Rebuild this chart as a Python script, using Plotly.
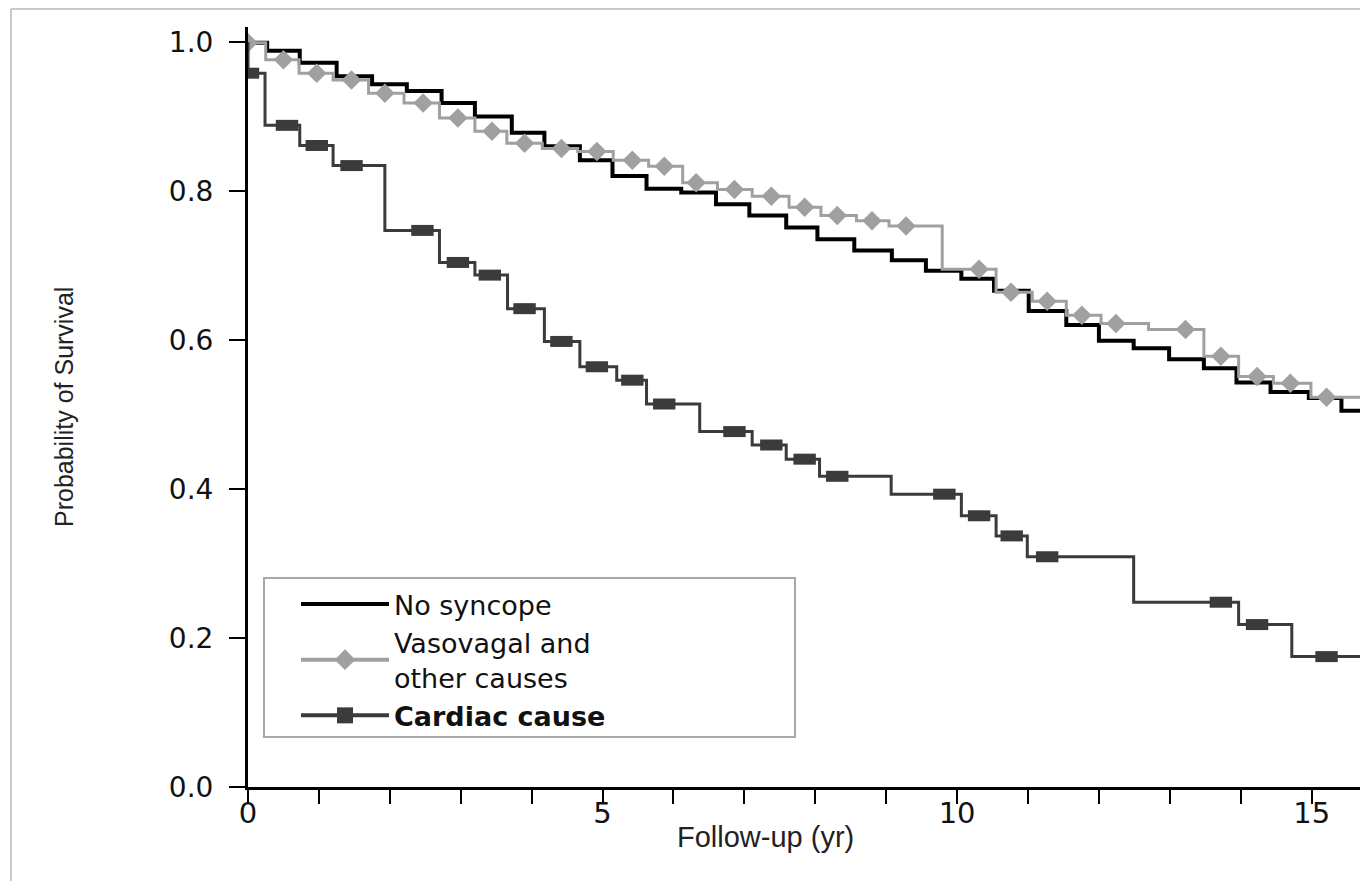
import plotly.graph_objects as go

# ---------------- data ----------------
# No syncope
ns_t = [0, 0.27, 0.73, 1.25, 1.75, 2.24, 2.73, 3.2, 3.72, 4.18, 4.68, 5.14, 5.62, 6.11, 6.6, 7.07,
        7.59, 8.03, 8.55, 9.08, 9.56, 10.06, 10.52, 11.01, 11.54, 12.0, 12.49, 12.99, 13.48, 13.94,
        14.42, 14.96, 15.42, 16.0]
ns_s = [0.999, 0.988, 0.972, 0.954, 0.943, 0.934, 0.918, 0.900, 0.878, 0.860, 0.841, 0.820, 0.803,
        0.798, 0.782, 0.767, 0.751, 0.735, 0.720, 0.707, 0.693, 0.682, 0.666, 0.639, 0.620, 0.599,
        0.589, 0.574, 0.562, 0.543, 0.530, 0.522, 0.505, 0.505]

# Vasovagal and other causes
vv_t = [0, 0.25, 0.72, 1.2, 1.7, 2.2, 2.7, 3.2, 3.65, 4.15, 4.65, 5.15, 5.65, 6.13, 6.62, 7.11,
        7.63, 8.08, 8.58, 9.04, 9.79, 10.55, 11.06, 11.54, 12.03, 12.7, 13.48, 13.97, 14.46, 14.99, 16.0]
vv_s = [0.999, 0.976, 0.958, 0.949, 0.931, 0.918, 0.898, 0.880, 0.864, 0.857, 0.853, 0.841, 0.833,
        0.811, 0.802, 0.793, 0.778, 0.767, 0.760, 0.753, 0.695, 0.664, 0.652, 0.633, 0.622, 0.614,
        0.578, 0.551, 0.542, 0.523, 0.523]
vv_mark_t = [0, 0.5, 0.97, 1.46, 1.93, 2.47, 2.96, 3.44, 3.9, 4.42, 4.92, 5.42, 5.87, 6.32, 6.86,
             7.38, 7.85, 8.31, 8.8, 9.28, 10.31, 10.76, 11.27, 11.76, 12.24, 13.22, 13.72, 14.23,
             14.7, 15.21]

# Cardiac cause
cc_t = [0, 0, 0.24, 0.73, 1.2, 1.93, 2.7, 3.2, 3.66, 4.18, 4.68, 5.2, 5.62, 6.37, 7.11, 7.59, 8.06,
        9.07, 10.06, 10.55, 10.99, 12.49, 13.97, 14.72, 16.0]
cc_s = [1.0, 0.958, 0.888, 0.861, 0.834, 0.747, 0.704, 0.687, 0.642, 0.598, 0.564, 0.546, 0.514,
        0.477, 0.459, 0.440, 0.417, 0.393, 0.364, 0.337, 0.309, 0.248, 0.218, 0.175, 0.175]
cc_mark_t = [0, 0.55, 0.97, 1.46, 2.46, 2.96, 3.41, 3.9, 4.42, 4.92, 5.42, 5.87, 6.86, 7.38, 7.85,
             8.31, 9.82, 10.31, 10.77, 11.27, 13.72, 14.23, 15.21]

x_ticks = [0, 5, 10, 15]
y_ticks = [0.0, 0.2, 0.4, 0.6, 0.8, 1.0]
y_tick_text = ["0.0", "0.2", "0.4", "0.6", "0.8", "1.0"]

names = ["No syncope", "Vasovagal and<br>other causes", "<b>Cardiac cause</b>"]
x_title = "Follow-up (yr)"
y_title = "Probability of Survival"


def step_value(times, vals, t):
    v = vals[0]
    for ti, vi in zip(times, vals):
        if ti <= t:
            v = vi
    return v


vv_mark_s = [step_value(vv_t, vv_s, t) for t in vv_mark_t]
cc_mark_s = [step_value(cc_t, cc_s, t) for t in cc_mark_t]

# ---------------- layout geometry (page pixels; page body has an 8px margin) ----------------
OFF = 8
W, H = 1368 - OFF, 881 - OFF
PLOT_L, PLOT_R, PLOT_T, PLOT_B = 248, 1362, 27, 787     # plot area in page pixels
ML = PLOT_L - OFF
MR = (W + OFF) - PLOT_R
MT = PLOT_T - OFF
MB = (H + OFF) - PLOT_B
X_RANGE = [0, 15.71]
Y_RANGE = [0, 1.02]

C_BLACK = "#000000"
C_GRAY = "#a0a0a0"
C_DARK = "#3b3b3b"

pw = PLOT_R - PLOT_L
ph = PLOT_B - PLOT_T


def px_x(px):
    return (px - PLOT_L) / pw


def px_y(py):
    return (PLOT_B - py) / ph


fig = go.Figure()

fig.add_trace(go.Scatter(
    x=ns_t, y=ns_s, mode="lines", name=names[0],
    line=dict(color=C_BLACK, width=4, shape="hv"),
))
fig.add_trace(go.Scatter(
    x=vv_t, y=vv_s, mode="lines", name=names[1], legendgroup="vv", showlegend=False,
    line=dict(color=C_GRAY, width=3, shape="hv"),
))
fig.add_trace(go.Scatter(
    x=vv_mark_t, y=vv_mark_s, mode="markers", name=names[1], legendgroup="vv", showlegend=False,
    marker=dict(symbol="diamond", size=15, color=C_GRAY, line=dict(width=0)),
))
fig.add_trace(go.Scatter(
    x=cc_t, y=cc_s, mode="lines", name=names[2], legendgroup="cc", showlegend=False,
    line=dict(color=C_DARK, width=3, shape="hv"),
))
fig.add_trace(go.Scatter(
    x=cc_mark_t, y=cc_mark_s, mode="markers", name=names[2], legendgroup="cc", showlegend=False,
    marker=dict(symbol="line-ew", size=16, color=C_DARK, line=dict(width=11, color=C_DARK)),
))
# legend entries (no data of their own)
fig.add_trace(go.Scatter(
    x=[None], y=[None], mode="lines+markers", name=names[1], legendgroup="vv",
    line=dict(color=C_GRAY, width=4),
    marker=dict(symbol="diamond", size=16, color=C_GRAY),
))
fig.add_trace(go.Scatter(
    x=[None], y=[None], mode="lines+markers", name=names[2], legendgroup="cc",
    line=dict(color=C_DARK, width=4),
    marker=dict(symbol="square", size=16, color=C_DARK),
))

# light frame of the original figure (top and left edges)
frame_left, frame_top = 11, 9
fig.add_shape(type="line", xref="paper", yref="paper",
              x0=px_x(frame_left), x1=px_x(W + OFF + 5),
              y0=px_y(frame_top), y1=px_y(frame_top),
              line=dict(color="#c9c9c9", width=2))
fig.add_shape(type="line", xref="paper", yref="paper",
              x0=px_x(frame_left), x1=px_x(frame_left),
              y0=px_y(frame_top), y1=px_y(H + OFF + 5),
              line=dict(color="#c9c9c9", width=2))
# legend frame
fig.add_shape(type="rect", xref="paper", yref="paper", layer="above",
              x0=px_x(264), x1=px_x(795), y0=px_y(578), y1=px_y(737),
              fillcolor="rgba(0,0,0,0)", line=dict(color="#a8a8a8", width=2))

# axis titles
fig.add_annotation(text=x_title, xref="paper", yref="paper", x=px_x(765), y=px_y(837),
                   xanchor="center", yanchor="middle", showarrow=False,
                   font=dict(family="Liberation Sans", size=29, color="#222222"))
fig.add_annotation(text=y_title, xref="paper", yref="paper", x=px_x(64), y=px_y(407),
                   xanchor="center", yanchor="middle", showarrow=False, textangle=-90,
                   font=dict(family="Liberation Sans", size=25, color="#222222"))

fig.update_layout(
    width=W, height=H,
    margin=dict(l=ML, r=MR, t=MT, b=MB, autoexpand=False),
    paper_bgcolor="white", plot_bgcolor="white",
    showlegend=True,
    legend=dict(
        x=px_x(296), y=px_y(580), xanchor="left", yanchor="top",
        bgcolor="rgba(255,255,255,0)", borderwidth=0,
        font=dict(family="DejaVu Sans", size=27, color="#111111"),
        itemwidth=88, tracegroupgap=0, traceorder="normal",
    ),
    xaxis=dict(
        range=X_RANGE, showgrid=False, zeroline=False, automargin=False,
        showline=True, linecolor="black", linewidth=3,
        tickmode="array", tickvals=x_ticks, ticktext=[str(v) for v in x_ticks],
        ticks="outside", ticklen=14, tickwidth=2, tickcolor="black",
        ticklabelstandoff=-16,
        minor=dict(dtick=1, tick0=0, ticks="outside", ticklen=14, tickwidth=2, tickcolor="black",
                   showgrid=False),
        tickfont=dict(family="DejaVu Sans", size=29, color="#111111"),
    ),
    yaxis=dict(
        range=Y_RANGE, showgrid=False, zeroline=False, automargin=False,
        showline=True, linecolor="black", linewidth=3,
        tickmode="array", tickvals=y_ticks, ticktext=y_tick_text,
        ticks="outside", ticklen=16, tickwidth=2, tickcolor="black",
        ticklabelstandoff=10,
        tickfont=dict(family="DejaVu Sans", size=28, color="#111111"),
    ),
)

fig.write_html("out.html")
